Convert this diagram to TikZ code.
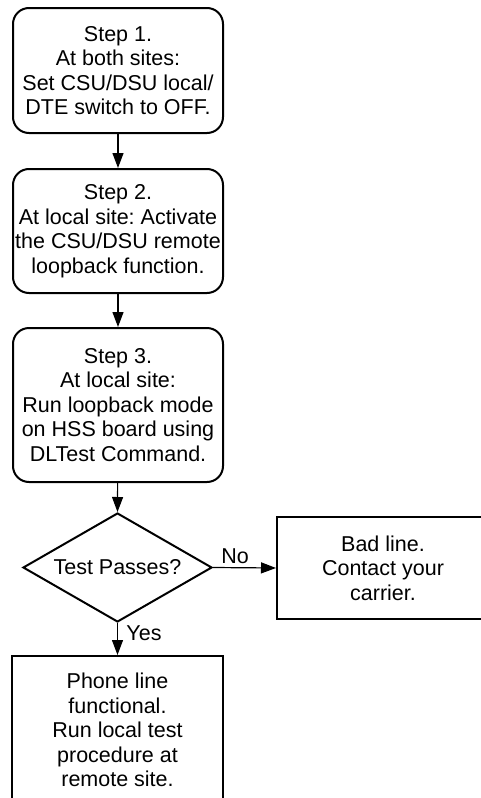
\documentclass[tikz,border=0pt]{standalone}
\usepackage{fontspec}
\setmainfont{Liberation Sans}
\usepackage{tikz}
\usetikzlibrary{arrows.meta,shapes.geometric}
\frenchspacing

\begin{document}
\begin{tikzpicture}[x=1pt, y=-1pt,
    stepbox/.style={draw, line width=2pt, rounded corners=16pt, align=center,
        minimum width=210pt, inner sep=0pt},
    plainbox/.style={draw, line width=2pt, align=center, inner sep=0pt},
    testbox/.style={draw, diamond, line width=2pt, inner sep=0pt, aspect=1.73,
        minimum width=189pt, minimum height=109pt},
    flow/.style={line width=1.2pt, -{Triangle[length=15pt, width=11pt]}},
    every node/.style={font=\fontsize{21.5}{24.5}\selectfont}]
    % Rahmen
    \path[use as bounding box, clip] (0,0) rectangle (481,798);

    % Schritte
    \node[stepbox, minimum height=125pt] (step1) at (118,70.5)
        {Step 1.\\At both sites:\\Set CSU/DSU local/\\DTE switch to OFF.};
    \node[stepbox, minimum height=124pt] (step2) at (118,231)
        {Step 2.\\At local site: Activate\\the CSU/DSU remote\\loopback function.};
    \node[stepbox, minimum height=154pt] (step3) at (118,405)
        {Step 3.\\At local site:\\Run loopback mode\\on HSS board using\\DLTest Command.};

    % Entscheidung
    \node[testbox] (test) at (117.5,567.5) {Test Passes?};

    % Ergebnisse
    \node[plainbox, minimum width=212pt, minimum height=102pt] (bad) at (383,568)
        {Bad line.\\Contact your\\carrier.};
    \node[plainbox, minimum width=211pt, minimum height=148pt] (good) at (117.5,730)
        {Phone line\\functional.\\Run local test\\procedure at\\remote site.};

    % Pfeile
    \draw[flow] (step1) -- (step2);
    \draw[flow] (step2) -- (step3);
    \draw[flow] (step3) -- (test.north);
    \draw[flow] (test.east) -- node[above, pos=0.35] {No} (bad.west);
    \draw[flow] (test.south) -- node[right=5pt, pos=0.32] {Yes} (good.north);
\end{tikzpicture}
\end{document}
